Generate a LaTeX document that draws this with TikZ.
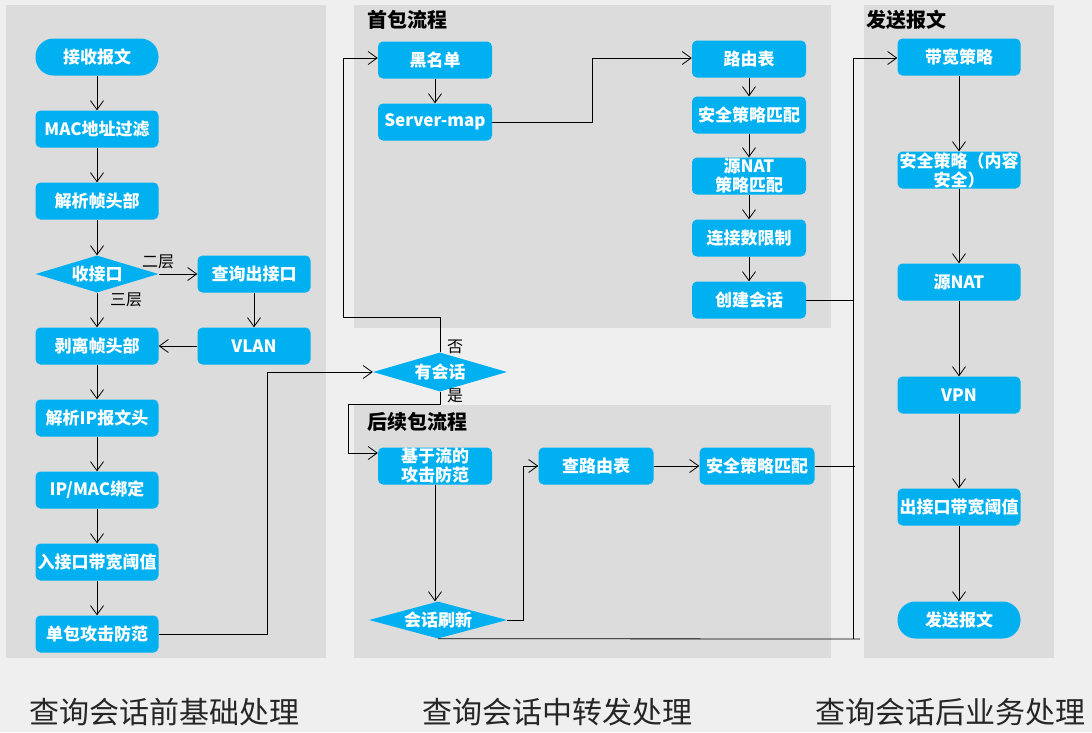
\documentclass[tikz,border=0pt]{standalone}
\usepackage{fontspec}
\setmainfont{Noto Sans CJK SC}
\usetikzlibrary{arrows.meta,shapes.geometric}
\definecolor{cblue}{HTML}{00B0F0}
\definecolor{panelc}{HTML}{DCDCDC}
\definecolor{bgc}{HTML}{EFEFEF}
\begin{document}
\begin{tikzpicture}[x=1pt,y=-1pt,
  box/.style={fill=cblue, rounded corners=5pt, text=white, font=\bfseries\fontsize{17}{16}\selectfont, minimum width=123pt, minimum height=37pt, inner sep=0pt, align=center},
  stad/.style={box, rounded corners=18pt},
  dia/.style={diamond, fill=cblue, text=white, font=\bfseries\fontsize{17}{16}\selectfont, inner sep=0pt, shape aspect=4, minimum width=123pt, minimum height=37pt},
  arr/.style={draw=black, line width=0.8pt, -{Straight Barb[length=9pt,width=13pt,line width=0.8pt]}},
  ln/.style={draw=black, line width=0.8pt},
  lbl/.style={font=\fontsize{16}{16}\selectfont, text=black, inner sep=0pt},
  ttl/.style={font=\bfseries\fontsize{20}{20}\selectfont, text=black, inner sep=0pt, anchor=west},
  captxt/.style={font=\fontsize{30}{30}\selectfont, text=black!85, inner sep=0pt}
]
\useasboundingbox (0,0) rectangle (1092,732);
\fill[bgc] (0,0) rectangle (1092,732);
\fill[panelc] (6,5) rectangle (326,658);
\fill[panelc] (354,5) rectangle (831,328);
\fill[panelc] (354,405) rectangle (831,658);
\fill[panelc] (864,5) rectangle (1054,658);

\node[ttl] (t1) at (367,20) {首包流程};
\node[ttl] (t2) at (367,422) {后续包流程};
\node[ttl] (t3) at (866,20) {发送报文};

\node[captxt] (c1) at (164,712) {查询会话前基础处理};
\node[captxt] (c2) at (557,712) {查询会话中转发处理};
\node[captxt] (c3) at (950,712) {查询会话后业务处理};

% left column
\node[stad] (recv) at (97,57) {接收报文};
\node[box] (mac) at (97,129) {MAC地址过滤};
\node[box] (pfh) at (97,201) {解析帧头部};
\node[dia] (rif) at (97,274) {收接口};
\node[box, minimum width=113pt] (qout) at (254,274) {查询出接口};
\node[box] (strip) at (97,346) {剥离帧头部};
\node[box, minimum width=113pt] (vlan) at (254,346) {VLAN};
\node[box] (pip) at (97,418) {解析IP报文头};
\node[box] (ipmac) at (97,490) {IP/MAC绑定};
\node[box] (inbw) at (97,562) {入接口带宽阈值};
\node[box] (single) at (97,634) {单包攻击防范};

% middle
\node[dia, minimum width=134pt, minimum height=39pt] (sess) at (440,372) {有会话};
\node[box, minimum width=114pt] (bl) at (435,60) {黑名单};
\node[box, minimum width=114pt] (sm) at (435,122) {Server-map};
\node[box, minimum width=114pt] (rt) at (749,59) {路由表};
\node[box, minimum width=114pt] (sec) at (749,115) {安全策略匹配};
\node[box, minimum width=114pt, font=\bfseries\fontsize{17}{19}\selectfont] (nat) at (749,176) {源NAT\\策略匹配};
\node[box, minimum width=114pt] (conn) at (749,238) {连接数限制};
\node[box, minimum width=114pt] (create) at (749,300) {创建会话};

\node[box, minimum width=114pt, font=\bfseries\fontsize{17}{19}\selectfont] (flow) at (435,466) {基于流的\\攻击防范};
\node[dia, minimum width=138pt, minimum height=37pt] (refresh) at (438,620) {会话刷新};
\node[box, minimum width=115pt] (rt2) at (596,466) {查路由表};
\node[box, minimum width=115pt] (sec2) at (757,466) {安全策略匹配};

% right
\node[box] (bw) at (959,57) {带宽策略};
\node[box, font=\bfseries\fontsize{17}{19}\selectfont] (csec) at (959,170) {安全策略（内容\\安全）};
\node[box] (snat) at (959,282) {源NAT};
\node[box] (vpn) at (959,395) {VPN};
\node[box] (obw) at (959,507) {出接口带宽阈值};
\node[stad] (send) at (959,620) {发送报文};

% labels
\node[lbl] (l2) at (158,262) {二层};
\node[lbl] (l3) at (126,300) {三层};
\node[lbl] (lno) at (455,347) {否};
\node[lbl] (lyes) at (455,396) {是};

% connectors left
\draw[arr] (recv) -- (mac);
\draw[arr] (mac) -- (pfh);
\draw[arr] (pfh) -- (rif);
\draw[arr] (rif.east) -- (qout.west);
\draw[arr] (rif) -- (strip);
\draw[arr] (qout) -- (vlan);
\draw[arr] (vlan.west) -- (strip.east);
\draw[arr] (strip) -- (pip);
\draw[arr] (pip) -- (ipmac);
\draw[arr] (ipmac) -- (inbw);
\draw[arr] (inbw) -- (single);
\draw[arr] (single.east) -- (267,634) |- (sess.west);

% middle connectors
\draw[arr] (sess.north) -- (440,317) -- (343,317) |- ([yshift=2pt]bl.west);
\draw[arr] (bl) -- (sm);
\draw[arr] (sm.east) -- (592,122) |- ([yshift=1pt]rt.west);
\draw[arr] (rt) -- (sec);
\draw[arr] (sec) -- (nat);
\draw[arr] (nat) -- (conn);
\draw[arr] (conn) -- (create);
\draw[arr] (create.east) -- (853,300) |- ([yshift=-1pt]bw.west);
\draw[arr] (sess.south) -- (440,404) -- (348,404) |- ([yshift=13pt]flow.west);
\draw[arr] (flow.south) -- (flow.south |- refresh.north);
\draw[arr] (refresh.east) -- (523,620) |- (rt2.west);
\draw[arr] (rt2) -- (sec2);
\draw[ln] (sec2.east) -- (855,466);
\draw[ln] (refresh.south) -- (860,639);
\draw[ln] (853,300) -- (853,639);

% right connectors
\draw[arr] (bw) -- (csec);
\draw[arr] (csec) -- (snat);
\draw[arr] (snat) -- (vpn);
\draw[arr] (vpn) -- (obw);
\draw[arr] (obw) -- (send);
\end{tikzpicture}
\end{document}
